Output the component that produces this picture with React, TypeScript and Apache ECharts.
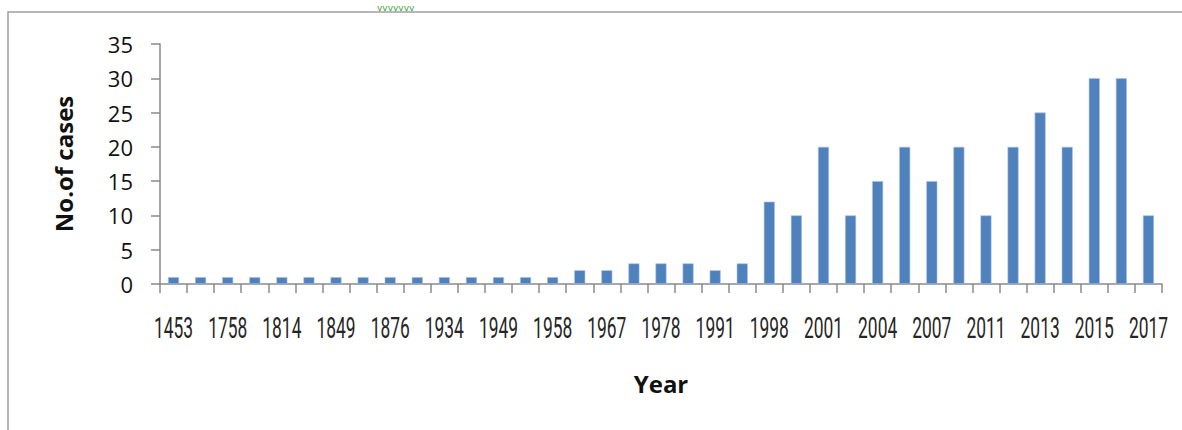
import React, { useEffect, useRef } from "react";
import * as echarts from "echarts";

const years: string[] = [
  "1453", "1700", "1758", "1800", "1814", "1830", "1849", "1860", "1876", "1900",
  "1934", "1940", "1949", "1955", "1958", "1962", "1967", "1973", "1978", "1985",
  "1991", "1995", "1998", "2000", "2001", "2003", "2004", "2005", "2007", "2009",
  "2011", "2012", "2013", "2014", "2015", "2016", "2017",
];

const cases: number[] = [
  1, 1, 1, 1, 1, 1, 1, 1, 1, 1,
  1, 1, 1, 1, 1, 2, 2, 3, 3, 3,
  2, 3, 12, 10, 20, 10, 15, 20, 15, 20,
  10, 20, 25, 20, 30, 30, 10,
];

const yTicks = { min: 0, max: 35, interval: 5 };
const xAxisTitle = "Year";
const yAxisTitle = "No.of cases";

// every other year is printed under the axis, as in the original
const shownLabelIdx: number[] = years.map((_, i) => i).filter((i) => i % 2 === 0);

export default function App() {
  const ref = useRef<HTMLDivElement>(null);

  useEffect(() => {
    if (!ref.current) return;
    const chart = echarts.init(ref.current, null, { renderer: "svg" });
    const axisGray = "#8a8a8a";
    chart.setOption({
      animation: false,
      backgroundColor: "#ffffff",
      grid: { left: 160, right: 20, top: 44, bottom: 146, containLabel: false },
      xAxis: {
        type: "category",
        data: years,
        boundaryGap: true,
        axisLine: { show: true, lineStyle: { color: axisGray, width: 1.5 } },
        axisTick: { show: true, interval: 0, length: 9, alignWithLabel: false, lineStyle: { color: axisGray, width: 1.5 } },
        axisLabel: { show: false },
        splitLine: { show: false },
      },
      yAxis: {
        type: "value",
        min: yTicks.min,
        max: yTicks.max,
        interval: yTicks.interval,
        axisLine: { show: true, lineStyle: { color: axisGray, width: 1.5 } },
        axisTick: { show: true, length: 9, lineStyle: { color: axisGray, width: 1.5 } },
        axisLabel: {
          margin: 27,
          fontSize: 22,
          color: "#111111",
          fontFamily: "'Open Sans', sans-serif",
        },
        splitLine: { show: false },
      },
      series: [
        {
          type: "bar",
          data: cases,
          barWidth: 11,
          itemStyle: { color: "#4f81bd", borderColor: "#a9c1e0", borderWidth: 0.6 },
        },
        {
          type: "custom",
          data: shownLabelIdx.map((i) => [i, 0]),
          clip: false,
          silent: true,
          tooltip: { show: false },
          renderItem: (params: any, api: any) => {
            const p = api.coord([api.value(0), 0]);
            const label = years[shownLabelIdx[params.dataIndex]];
            return {
              type: "text",
              x: p[0],
              y: p[1] + 44,
              scaleX: 0.6,
              style: {
                text: label,
                fontSize: 29,
                fill: "#262626",
                fontFamily: "Roboto, sans-serif",
                align: "center",
                verticalAlign: "middle",
              },
            };
          },
        },
      ],
      graphic: [
        {
          type: "rect",
          shape: { x: 8, y: 12, width: 1200, height: 440 },
          style: { fill: "none", stroke: "#a0a0a0", lineWidth: 1.5 },
          silent: true,
        },
        {
          type: "text",
          x: 377,
          y: 3,
          style: { text: "vvvvvvv", fontSize: 9, fill: "#3aa63a", fontFamily: "'DejaVu Sans', sans-serif" },
          silent: true,
        },
        {
          type: "text",
          x: 661,
          y: 383,
          style: {
            text: xAxisTitle,
            fontSize: 24,
            fontWeight: "bold",
            fill: "#111111",
            fontFamily: "'Open Sans', sans-serif",
            align: "center",
            verticalAlign: "middle",
          },
          silent: true,
        },
        {
          type: "text",
          x: 63,
          y: 164,
          rotation: Math.PI / 2,
          style: {
            text: yAxisTitle,
            fontSize: 24,
            fontWeight: "bold",
            fill: "#111111",
            fontFamily: "'Open Sans', sans-serif",
            align: "center",
            verticalAlign: "middle",
          },
          silent: true,
        },
      ],
    });
    return () => chart.dispose();
  }, []);

  return (
    <div
      ref={ref}
      style={{ position: "fixed", left: 0, top: 0, width: 1182, height: 430 }}
    />
  );
}
